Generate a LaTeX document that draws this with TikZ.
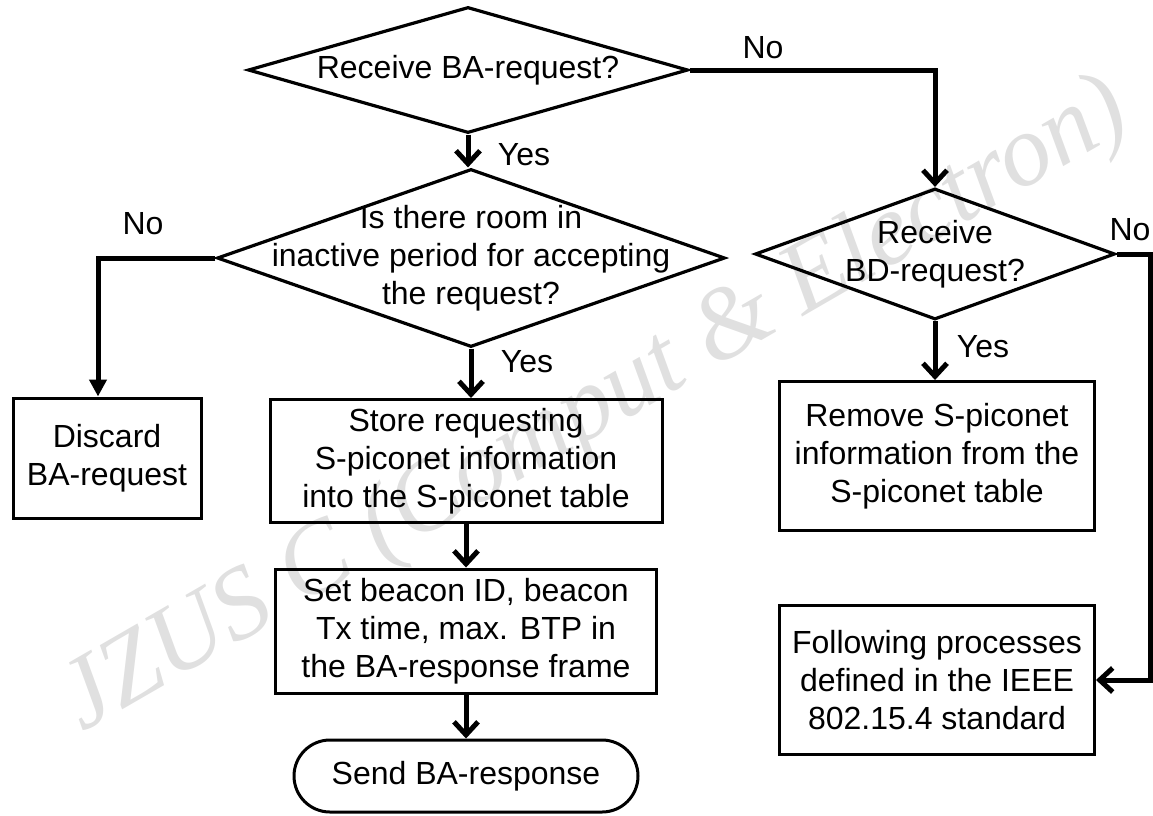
\documentclass[tikz,border=0pt]{standalone}
\usepackage{fontspec}
\setmainfont{Liberation Sans}
\newfontfamily\wmfont{Liberation Serif}
\usetikzlibrary{shapes.geometric,arrows.meta}
\begin{document}
\begin{tikzpicture}[x=1pt,y=-1pt,
  every node/.style={font=\fontsize{32}{38}\selectfont},
  procbox/.style={draw, line width=3pt, align=center, inner sep=0pt},
  decis/.style={diamond, draw, line width=3.2pt, inner sep=0pt},
  txtlbl/.style={inner sep=0pt, align=center},
  conn/.style={line width=5pt, -{Straight Barb[length=13pt,width=24pt]}},
  connt/.style={line width=5pt, -{Triangle[length=17pt,width=17pt]}},
  wmark/.style={text=black!12, font=\wmfont\itshape\fontsize{102}{102}\selectfont, inner sep=0pt}
]
\useasboundingbox (0,0) rectangle (1153,815);

% watermark
\node[wmark, rotate=30] (wm) at (596,408) {JZUS C (Comput \& Electron)};

% decisions
\node[decis, minimum width=440pt, minimum height=126pt,
      label={[txtlbl,name=d1t]center:Receive BA-request?}] (d1) at (468,70) {};
\node[decis, minimum width=508pt, minimum height=178pt,
      label={[txtlbl,name=d2t]center:Is there room in\\inactive period for accepting\\the request?}] (d2) at (471,258) {};
\node[decis, minimum width=360pt, minimum height=131pt,
      label={[txtlbl,name=d3t]center:Receive\\BD-request?}] (d3) at (935,254) {};

% process boxes
\node[procbox, minimum width=188pt, minimum height=120pt] (discard) at (107,458) {Discard\\BA-request};
\node[procbox, minimum width=392pt, minimum height=123pt] (store) at (466,461) {Store requesting\\S-piconet information\\into the S-piconet table};
\node[procbox, minimum width=381pt, minimum height=124pt] (set) at (466,631) {Set beacon ID, beacon\\Tx time, max. BTP in\\the BA-response frame};
\node[procbox, minimum width=315pt, minimum height=149pt] (remove) at (937,456) {Remove S-piconet\\information from the\\S-piconet table};
\node[procbox, minimum width=315pt, minimum height=149pt] (follow) at (937,680) {Following processes\\defined in the IEEE\\802.15.4 standard};
\node[draw, line width=3pt, rounded corners=36pt, minimum width=344pt, minimum height=72pt, inner sep=0pt] (send) at (466,776) {Send BA-response};

% helper coordinates
\coordinate (dl) at (98,0);
\coordinate (rr) at (1150,0);

% connectors
\draw[conn] (d1.south) -- (d1.south |- d2.north);
\draw[conn] (d1.east) -| (d3.north);
\draw[connt] (d2.west) -| (dl |- discard.north);
\draw[conn] (d2.south) -- (d2.south |- store.north);
\draw[conn] (store.south) -- (set.north);
\draw[conn] (set.south) -- (send.north);
\draw[conn] (d3.south) -- (d3.south |- remove.north);
\draw[conn] (d3.east) -- (d3.east -| rr) |- (follow.east);

% labels
\node (yes1) at (524,155) {Yes};
\node (no1) at (763,48) {No};
\node (no2) at (143,224) {No};
\node (yes2) at (527,362) {Yes};
\node (yes3) at (983,347) {Yes};
\node (no3) at (1130,230) {No};
\end{tikzpicture}
\end{document}
